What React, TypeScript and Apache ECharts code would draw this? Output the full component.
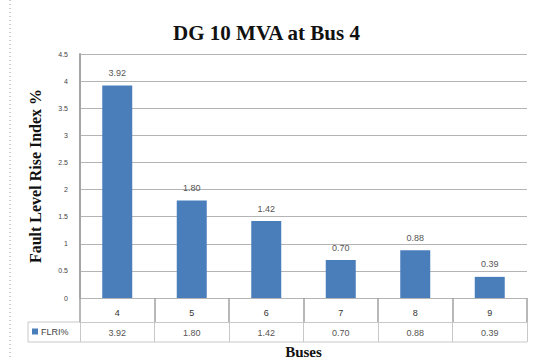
import React, { useEffect, useRef } from "react";
import * as echarts from "echarts";

// Fault level rise index per bus, DG of 10 MVA connected at bus 4
const buses = ["4", "5", "6", "7", "8", "9"];
const flri = [3.92, 1.8, 1.42, 0.7, 0.88, 0.39];
const seriesName = "FLRI%";
const yTicks = { min: 0, max: 4.5, step: 0.5 };

const W = 533;
const H = 360;
const PLOT_L = 80;
const PLOT_R = 527;
const PLOT_T = 54;
const PLOT_B = 298;
const ROW_H = 24;
const TABLE_B = 342;
const TABLE_L = 28;

const serif = "'Liberation Serif', 'DejaVu Serif', serif";
const sans = "'Liberation Sans', Arial, sans-serif";

export default function App() {
  const ref = useRef<HTMLDivElement>(null);

  useEffect(() => {
    if (!ref.current) return;
    const chart = echarts.init(ref.current, undefined, { renderer: "svg" });
    const tableLine = { stroke: "#c8c8c8", lineWidth: 1 };
    chart.setOption({
      animation: false,
      backgroundColor: "#ffffff",
      title: {
        text: "DG 10 MVA at Bus 4",
        left: "center",
        top: 17,
        textStyle: { fontFamily: serif, fontWeight: "bold", fontSize: 21, color: "#111" },
      },
      legend: {
        data: [seriesName],
        left: TABLE_L + 4,
        top: PLOT_B + ROW_H + 5,
        padding: 0,
        icon: "rect",
        itemWidth: 6,
        itemHeight: 6,
        itemGap: 4,
        textStyle: { fontFamily: sans, fontSize: 9, color: "#444", padding: [0, 0, 0, -2] },
      },
      grid: {
        left: PLOT_L,
        right: W - PLOT_R,
        top: PLOT_T,
        bottom: H - PLOT_B,
        containLabel: false,
        outerBoundsMode: "none",
      },
      xAxis: [
        {
          type: "category",
          data: buses,
          position: "bottom",
          axisLine: { show: false },
          axisTick: {
            show: true,
            interval: 0,
            length: ROW_H,
            lineStyle: { color: "#a0a0a0", width: 1.5 },
          },
          axisLabel: { margin: 10, fontFamily: sans, fontSize: 9, color: "#333" },
        },
        {
          type: "category",
          data: buses,
          position: "bottom",
          offset: ROW_H,
          axisLine: { show: true, lineStyle: { color: "#c8c8c8", width: 1 } },
          axisTick: {
            show: true,
            interval: 0,
            length: TABLE_B - PLOT_B - ROW_H,
            lineStyle: { color: "#c8c8c8", width: 1 },
          },
          axisLabel: {
            margin: 6,
            fontFamily: sans,
            fontSize: 9,
            color: "#555",
            formatter: (_v: string, i: number) => flri[i].toFixed(2),
          },
          name: "Buses",
          nameLocation: "middle",
          nameGap: 22,
          nameTextStyle: {
            fontFamily: serif,
            fontWeight: "bold",
            fontSize: 15,
            lineHeight: 15,
            color: "#111",
          },
        },
      ],
      yAxis: {
        type: "value",
        min: yTicks.min,
        max: yTicks.max,
        interval: yTicks.step,
        name: "Fault Level Rise Index %",
        nameLocation: "middle",
        nameRotate: 90,
        nameGap: 37,
        nameTextStyle: { fontFamily: serif, fontWeight: "bold", fontSize: 16, color: "#111" },
        axisLine: { show: true, lineStyle: { color: "#a6a6a6", width: 2 } },
        axisTick: { show: false },
        axisLabel: { margin: 12, fontFamily: sans, fontSize: 7, color: "#444" },
        splitLine: { show: true, lineStyle: { color: "#b4b4b4", width: 1 } },
      },
      series: [
        {
          name: seriesName,
          type: "bar",
          data: flri,
          barWidth: 30,
          itemStyle: { color: "#4a7ebb" },
          label: {
            show: true,
            position: "top",
            distance: 8,
            fontFamily: sans,
            fontSize: 9,
            color: "#555",
            formatter: (p: any) => Number(p.value).toFixed(2),
          },
        },
      ],
      graphic: [
        {
          type: "line",
          shape: { x1: 10, y1: 0, x2: 10, y2: H },
          style: { stroke: "#999", lineWidth: 1, lineDash: [1, 3] },
        },
        {
          type: "line",
          shape: { x1: TABLE_L, y1: PLOT_B + ROW_H, x2: PLOT_L, y2: PLOT_B + ROW_H },
          style: tableLine,
        },
        {
          type: "line",
          shape: { x1: TABLE_L, y1: TABLE_B, x2: PLOT_R, y2: TABLE_B },
          style: tableLine,
        },
        {
          type: "line",
          shape: { x1: TABLE_L, y1: PLOT_B + ROW_H, x2: TABLE_L, y2: TABLE_B },
          style: tableLine,
        },
      ],
    });
    return () => chart.dispose();
  }, []);

  return (
    <div
      ref={ref}
      style={{ position: "fixed", left: 0, top: 0, width: W, height: H }}
    />
  );
}
